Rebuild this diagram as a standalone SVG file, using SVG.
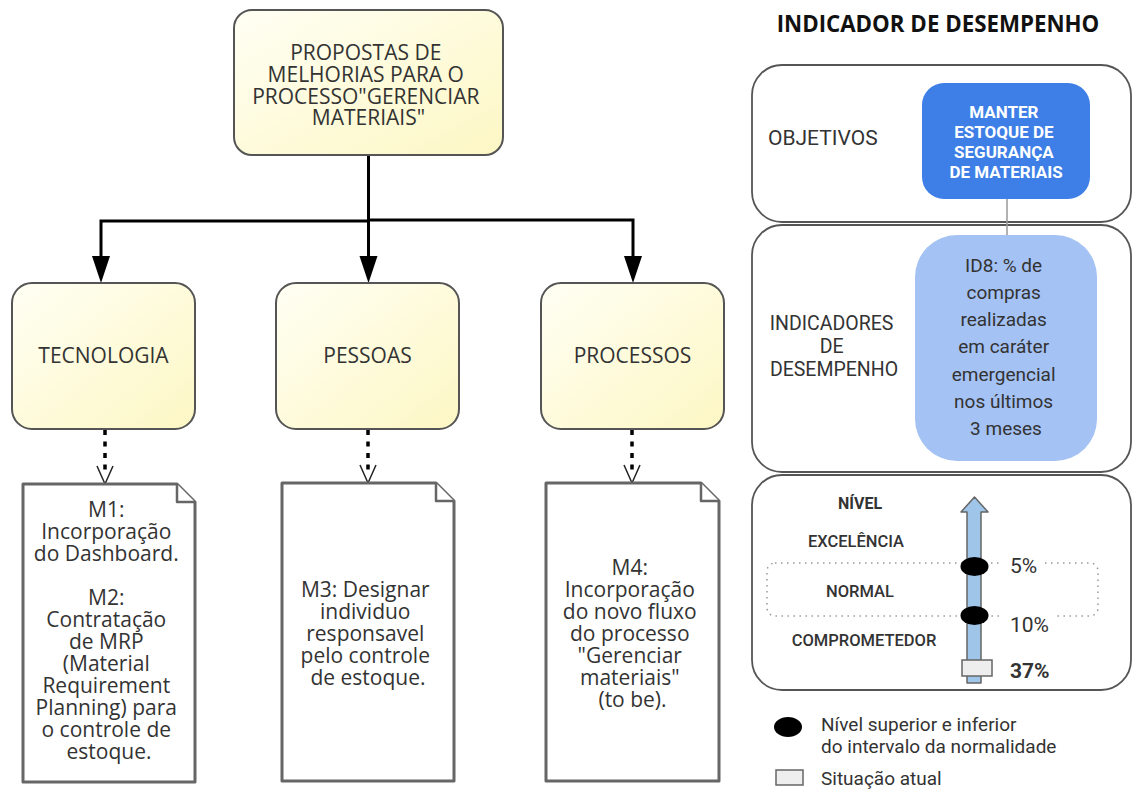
<svg xmlns="http://www.w3.org/2000/svg" width="1133" height="789" viewBox="0 0 1133 789">
  <defs>
    <linearGradient id="yellowFill" x1="0" y1="0" x2="1" y2="1">
      <stop offset="0" stop-color="#fffff4"/>
      <stop offset="1" stop-color="#fdf7c4"/>
    </linearGradient>
    <style>
      .box { fill: url(#yellowFill); stroke: #555; stroke-width: 2; }
      .doc { fill: #fff; stroke: #666; stroke-width: 3; stroke-linejoin: round; }
      .fold { fill: #fff; stroke: #666; stroke-width: 2.5; stroke-linejoin: round; }
      .os { font-family: "Open Sans", "DejaVu Sans", sans-serif; font-size: 21px; fill: #333; text-anchor: middle; }
      .rb { font-family: Roboto, "Liberation Sans", sans-serif; fill: #333; }
      .panel { fill: #fff; stroke: #555; stroke-width: 1.8; }
      .tree { fill: none; stroke: #000; stroke-width: 3; }
      .head { fill: #000; }
      .dots { fill: none; stroke: #000; stroke-width: 3.5; stroke-dasharray: 5 6.5; }
      .vhead { fill: none; stroke: #222; stroke-width: 1.5; }
      .lvl { font-size: 16.5px; font-weight: 500; text-anchor: middle; }
    </style>
  </defs>

  <rect width="1133" height="789" fill="#fff"/>

  <!-- tree connectors -->
  <g id="connectors">
    <path class="tree" d="M368.5,156 V221 H101 V258"/>
    <path class="tree" d="M368.5,221 V258"/>
    <path class="tree" d="M368.5,220 H633 V258"/>
    <path class="head" d="M92,256 H110 L101,283 Z"/>
    <path class="head" d="M359.5,256 H377.5 L368.5,283 Z"/>
    <path class="head" d="M624,256 H642 L633,283 Z"/>
    <path class="dots" d="M105,430 V474"/>
    <path class="vhead" d="M97,466 L105,484 L113,466"/>
    <path class="dots" d="M368,430 V473"/>
    <path class="vhead" d="M360,465 L368,483 L376,465"/>
    <path class="dots" d="M632,430 V473"/>
    <path class="vhead" d="M624,465 L632,483 L640,465"/>
  </g>

  <!-- root node -->
  <g id="root">
    <rect class="box" x="234" y="10" width="269" height="145" rx="18"/>
    <text class="os">
      <tspan x="368.5" y="60">PROPOSTAS DE</tspan>
      <tspan x="368.5" y="82">MELHORIAS PARA O</tspan>
      <tspan x="368.5" y="104">PROCESSO"GERENCIAR</tspan>
      <tspan x="368.5" y="125">MATERIAIS"</tspan>
    </text>
  </g>

  <g id="tecnologia">
    <rect class="box" x="12" y="283" width="183" height="146" rx="20"/>
    <text class="os" x="103.5" y="363">TECNOLOGIA</text>
  </g>
  <g id="pessoas">
    <rect class="box" x="276" y="283" width="183" height="146" rx="20"/>
    <text class="os" x="367.5" y="363">PESSOAS</text>
  </g>
  <g id="processos">
    <rect class="box" x="541" y="283" width="183" height="146" rx="20"/>
    <text class="os" x="632.5" y="363">PROCESSOS</text>
  </g>

  <!-- improvement notes -->
  <g id="m1-m2">
    <path class="doc" d="M23,484 H177 L195,502 V782 H23 Z"/>
    <path class="fold" d="M177,484 V502 H195"/>
    <text class="os">
      <tspan x="109" y="517">M1:</tspan>
      <tspan x="109" y="539">Incorporação</tspan>
      <tspan x="109" y="561">do Dashboard.</tspan>
      <tspan x="109" y="605">M2:</tspan>
      <tspan x="109" y="627">Contratação</tspan>
      <tspan x="109" y="649">de MRP</tspan>
      <tspan x="109" y="671">(Material</tspan>
      <tspan x="109" y="693">Requirement</tspan>
      <tspan x="109" y="715">Planning) para</tspan>
      <tspan x="109" y="737">o controle de</tspan>
      <tspan x="109" y="759">estoque.</tspan>
    </text>
  </g>
  <g id="m3">
    <path class="doc" d="M282,483 H436 L454,501 V781 H282 Z"/>
    <path class="fold" d="M436,483 V501 H454"/>
    <text class="os">
      <tspan x="368" y="597">M3: Designar</tspan>
      <tspan x="368" y="619">individuo</tspan>
      <tspan x="368" y="641">responsavel</tspan>
      <tspan x="368" y="663">pelo controle</tspan>
      <tspan x="368" y="685">de estoque.</tspan>
    </text>
  </g>
  <g id="m4">
    <path class="doc" d="M546,483 H701 L719,501 V781 H546 Z"/>
    <path class="fold" d="M701,483 V501 H719"/>
    <text class="os">
      <tspan x="632.5" y="575">M4:</tspan>
      <tspan x="632.5" y="597">Incorporação</tspan>
      <tspan x="632.5" y="619">do novo fluxo</tspan>
      <tspan x="632.5" y="641">do processo</tspan>
      <tspan x="632.5" y="663">"Gerenciar</tspan>
      <tspan x="632.5" y="685">materiais"</tspan>
      <tspan x="632.5" y="707">(to be).</tspan>
    </text>
  </g>

  <!-- performance indicator panel -->
  <g id="titulo">
    <text x="938" y="32" font-family="'Open Sans', 'DejaVu Sans', sans-serif" font-size="22.3" font-weight="700" fill="#111" text-anchor="middle">INDICADOR DE DESEMPENHO</text>
  </g>

  <g id="objetivos">
    <rect class="panel" x="752" y="65" width="379" height="157" rx="30"/>
    <text class="rb" x="768" y="145" font-size="21">OBJETIVOS</text>
  </g>

  <g id="indicadores">
    <rect class="panel" x="752" y="225" width="379" height="247" rx="30"/>
    <text class="rb" font-size="19.5" text-anchor="middle">
      <tspan x="834" y="330">INDICADORES</tspan>
      <tspan x="834" y="353">DE</tspan>
      <tspan x="834" y="376">DESEMPENHO</tspan>
    </text>
  </g>

  <g id="nivel">
    <rect class="panel" x="752" y="475" width="379" height="215" rx="30"/>
    <text class="rb" x="860" y="509" font-size="16" font-weight="700" text-anchor="middle">NÍVEL</text>
    <text class="rb lvl" x="856" y="547">EXCELÊNCIA</text>
    <text class="rb lvl" x="860" y="597">NORMAL</text>
    <text class="rb lvl" x="864" y="646">COMPROMETEDOR</text>
    <rect x="767" y="563" width="331" height="53" rx="8" fill="none" stroke="#999" stroke-width="1.5" stroke-dasharray="1.5 4.5"/>
    <rect x="1003" y="554" width="38" height="22" fill="#fff"/>
    <rect x="1003" y="611" width="50" height="24" fill="#fff"/>
    <path d="M967,683 V512 H961 L974.5,497 L988,512 H981 V683 Z" fill="#9fc5e8" stroke="#666" stroke-width="1.5" stroke-linejoin="round"/>
    <ellipse cx="974.5" cy="566.5" rx="14" ry="9.5" fill="#000"/>
    <ellipse cx="974.5" cy="615.5" rx="14" ry="9.5" fill="#000"/>
    <rect x="962" y="660" width="30" height="16" fill="#eee" stroke="#666" stroke-width="1.5"/>
    <text class="rb" x="1010" y="573" font-size="21">5%</text>
    <text class="rb" x="1010" y="632" font-size="21">10%</text>
    <text class="rb" x="1010" y="678" font-size="21" font-weight="700" fill="#222">37%</text>
  </g>

  <g id="objetivo-manter">
    <line x1="1007" y1="199" x2="1007" y2="236" stroke="#999" stroke-width="1.5"/>
    <rect x="922" y="83" width="168" height="116" rx="22" fill="#3d7fe6"/>
    <text class="rb" font-size="17" font-weight="700" text-anchor="middle" style="fill:#fff">
      <tspan x="1006" y="118">MANTER</tspan>
      <tspan x="1006" y="138">ESTOQUE DE</tspan>
      <tspan x="1006" y="158">SEGURANÇA</tspan>
      <tspan x="1006" y="178">DE MATERIAIS</tspan>
    </text>
  </g>

  <g id="id8">
    <rect x="915" y="235" width="182" height="226" rx="42" fill="#a4c2f4"/>
    <text class="rb" font-size="19" text-anchor="middle">
      <tspan x="1006" y="272">ID8: % de</tspan>
      <tspan x="1006" y="299">compras</tspan>
      <tspan x="1006" y="326">realizadas</tspan>
      <tspan x="1006" y="353">em caráter</tspan>
      <tspan x="1006" y="381">emergencial</tspan>
      <tspan x="1006" y="408">nos últimos</tspan>
      <tspan x="1006" y="435">3 meses</tspan>
    </text>
  </g>

  <!-- legend -->
  <g id="legenda">
    <ellipse cx="788" cy="727" rx="14" ry="10" fill="#000"/>
    <text class="rb" font-size="19">
      <tspan x="821" y="731">Nível superior e inferior</tspan>
      <tspan x="821" y="753">do intervalo da normalidade</tspan>
    </text>
    <rect x="776" y="770" width="27" height="15" fill="#eee" stroke="#666" stroke-width="1.5"/>
    <text class="rb" x="821" y="785" font-size="19">Situação atual</text>
  </g>
</svg>
